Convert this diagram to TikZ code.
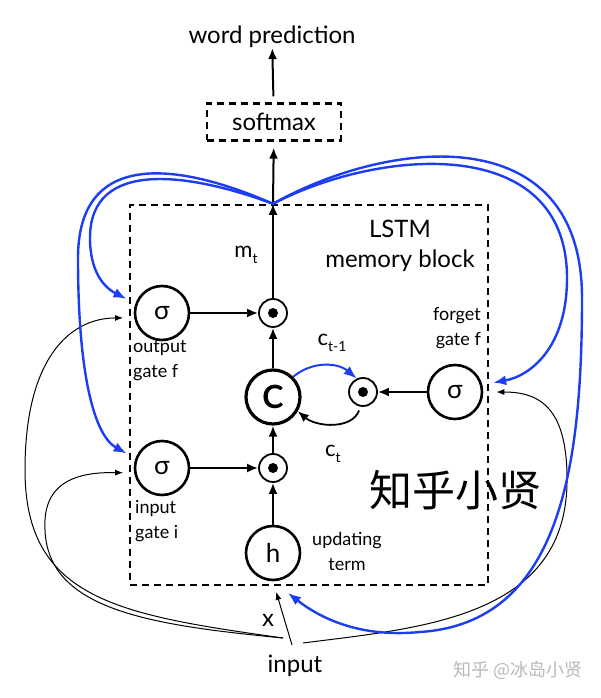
\documentclass[tikz,border=0pt]{standalone}
\usepackage{fontspec}
\setmainfont{Lato}
\newfontfamily\cjk{Noto Sans CJK SC}
\usetikzlibrary{positioning,arrows.meta}
\definecolor{loopblue}{RGB}{28,62,240}
\definecolor{markgray}{RGB}{185,185,185}
\newcommand{\lowtxt}[1]{\raisebox{-0.3em}{\fontsize{14}{14}\selectfont #1}}
\tikzset{
	gate/.style={circle, draw, line width=2.6pt, minimum size=54pt, inner sep=0pt, font=\fontsize{26}{26}\selectfont},
	prod/.style={circle, draw, line width=1.8pt, minimum size=28pt, inner sep=0pt,
		path picture={\fill (path picture bounding box.center) circle (5pt);}},
	dashbox/.style={draw, line width=2.4pt, dash pattern=on 7pt off 5pt},
	lbl/.style={font=\fontsize{18}{25}\selectfont, inner sep=0pt},
	txt/.style={font=\fontsize{24}{30}\selectfont, inner sep=0pt},
	flow/.style={-{Latex[length=11pt,width=9pt]}, line width=2pt},
	feed/.style={-{Latex[length=8pt,width=6pt]}, line width=1pt},
	back/.style={-{Latex[length=13pt,width=10pt]}, line width=2.4pt, draw=loopblue},
}

\begin{document}
\begin{tikzpicture}[x=1pt, y=1pt]
	\useasboundingbox (0,0) rectangle (600,698);
	
	\node[font=\cjk\fontsize{43}{43}\selectfont] (mark) at (455,208) {知乎小贤};
	\node[font=\cjk\fontsize{18}{18}\selectfont, text=markgray] (site) at (518,28) {知乎 @冰岛小贤};
	
	\node[txt]                                   (word) at (272,661) {word prediction};
	\node[dashbox, txt, minimum width=134pt, minimum height=37pt] (soft) at (274,576) {softmax};
	\node[dashbox, minimum width=358pt, minimum height=380pt]     (block) at (309,303) {};
	\node[txt, align=center]                     (title) at (400,452) {LSTM\\memory block};
	
	\node[gate]                                  (og) at (162,385) {σ};
	\node[prod]                                  (mo) at (273,385) {};
	\node[gate, line width=3.2pt, font=\fontsize{32}{32}\selectfont\bfseries] (C) at (273,301) {C};
	\node[prod]                                  (mf) at (363,306) {};
	\node[gate]                                  (fg) at (455,306) {σ};
	\node[gate]                                  (ig) at (162,230) {σ};
	\node[prod]                                  (mi) at (273,230) {};
	\node[gate]                                  (h) at (273,145) {h};
	\coordinate (jn) at (mo |- block.north);
	
	\node[lbl, align=left, anchor=north west]    (olab) at (133,358) {output\\gate f};
	\node[lbl, align=left, anchor=north west]    (ilab) at (135,198) {input\\gate i};
	\node[lbl, align=right, anchor=north east]   (flab) at (481,391) {forget\\gate f};
	\node[lbl, align=center, anchor=north]       (ulab) at (347,166) {updating\\term};
	\node[font=\fontsize{22}{22}\selectfont]     (mt) at (246,443) {m\lowtxt{t}};
	\node[font=\fontsize{22}{22}\selectfont]     (cprev) at (332,355) {c\lowtxt{t-1}};
	\node[font=\fontsize{22}{22}\selectfont]     (cnow) at (333,244) {c\lowtxt{t}};
	\node[txt]                                   (xin) at (268,78) {x};
	\node[txt]                                   (inp) at (295,32) {input};
	\coordinate (inL) at (283,60);
	\coordinate (inM) at (292,53);
	\coordinate (inR) at (303,55);
	
	\draw[flow] (mo) -- (jn);
	\draw[flow, shorten >=6pt] (jn) -- (soft);
	\draw[flow, shorten <=6pt] (soft) -- (word);
	\draw[flow] (og) -- (mo);
	\draw[flow] (C) -- (mo);
	\draw[flow] (mi) -- (C);
	\draw[flow] (ig) -- (mi);
	\draw[flow] (h) -- (mi);
	\draw[flow] (fg) -- (mf);
	\draw[back, line width=2pt] (C.north east) to[out=40, in=140] (mf.115);
	\draw[flow, line width=1.8pt, shorten <=4pt] (mf.-100) to[out=-110, in=-40] (C.-30);
	
	% input feeds
	\draw[feed, shorten >=11pt] (inM) -- (h.south);
	\draw[feed, shorten >=11pt] (inL) .. controls (120,83) and (25,98) .. (25,228)
		.. controls (25,340) and (70,380) .. (og.190);
	\draw[feed, shorten >=11pt] (inL) .. controls (150,73) and (48,88) .. (45,168)
		.. controls (42,218) and (80,226) .. (ig.190);
	\draw[feed, shorten >=13pt] (inR) .. controls (420,70) and (565,80) .. (567,215)
		.. controls (568,290) and (540,306) .. (fg.east);
	
	% recurrent feeds
	\draw[back, shorten >=10pt] (jn) .. controls (190,525) and (90,540) .. (90,460)
		.. controls (90,425) and (105,410) .. (og.160);
	\draw[back, shorten >=10pt] (jn) .. controls (180,535) and (78,550) .. (78,440)
		.. controls (78,320) and (95,262) .. (ig.160);
	\draw[back, shorten >=11pt] (jn) .. controls (380,550) and (567,565) .. (567,420)
		.. controls (567,350) and (530,322) .. (fg.15);
	\draw[back, shorten >=19pt] (jn) .. controls (390,560) and (582,580) .. (582,400)
		.. controls (582,230) and (560,75) .. (420,66)
		.. controls (360,60) and (320,80) .. (h.south);
	
\end{tikzpicture}
\end{document}
